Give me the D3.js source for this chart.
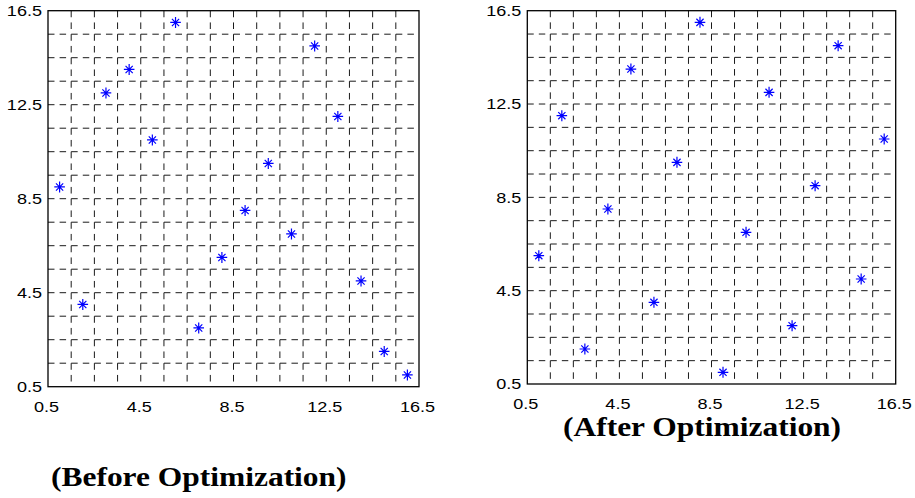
<!DOCTYPE html>
<html>
<head>
<meta charset="utf-8">
<script src="https://cdn.jsdelivr.net/npm/d3@7"></script>
<style>
  body { margin: 0; background: #fff; }
  svg { display: block; }
</style>
</head>
<body>
<svg id="chart" width="915" height="498"></svg>
<script>
// cell index of each of the 16 points (x) and the row it sits in (y)
var xPos = [1, 2, 3, 4, 5, 6, 7, 8, 9, 10, 11, 12, 13, 14, 15, 16];
var beforeY = [9, 4, 13, 14, 11, 16, 3, 6, 8, 10, 7, 15, 12, 5, 2, 1];
var afterY = [6, 12, 2, 8, 14, 4, 10, 16, 1, 7, 13, 3, 9, 15, 5, 11];
var tickValues = [0.5, 4.5, 8.5, 12.5, 16.5];
var gridValues = [1.5, 2.5, 3.5, 4.5, 5.5, 6.5, 7.5, 8.5, 9.5, 10.5, 11.5, 12.5, 13.5, 14.5, 15.5];
var domain = [0.5, 16.5];

var stretch = 1.165; // the picture is a bit wider than tall

var svg = d3.select("#chart");

function panel(left, top, right, bottom, yData, title, titleX, titleY) {
	var x = d3.scaleLinear().domain(domain).range([left, right]);
	var y = d3.scaleLinear().domain(domain).range([bottom, top]);
	var g = svg.append("g");
	var ux = x(1.5) - x(0.5), uy = y(0.5) - y(1.5);

	// dashed grid
	g.selectAll("line.vg")
		.data(gridValues)
		.enter()
		.append("line")
		.attr("x1", function (d) { return x(d); })
		.attr("x2", function (d) { return x(d); })
		.attr("y1", top)
		.attr("y2", bottom)
		.attr("stroke", "#1a1a1a")
		.attr("stroke-width", 1)
		.attr("stroke-dasharray", (uy * 0.28) + "," + (uy * 0.22));
	g.selectAll("line.hg")
		.data(gridValues)
		.enter()
		.append("line")
		.attr("y1", function (d) { return y(d); })
		.attr("y2", function (d) { return y(d); })
		.attr("x1", left)
		.attr("x2", right)
		.attr("stroke", "#1a1a1a")
		.attr("stroke-width", 1)
		.attr("stroke-dasharray", (ux * 0.28) + "," + (ux * 0.22));

	// box
	g.append("rect")
		.attr("x", left)
		.attr("y", top)
		.attr("width", right - left)
		.attr("height", bottom - top)
		.attr("fill", "none")
		.attr("stroke", "#000")
		.attr("stroke-width", 1.3);

	// tick labels
	var xAxis = g.append("g")
		.attr("transform", "translate(0," + bottom + ")")
		.call(d3.axisBottom(x).tickValues(tickValues).tickSize(0).tickPadding(14).tickFormat(d3.format(".1f")));
	var yAxis = g.append("g")
		.attr("transform", "translate(" + left + ",0)")
		.call(d3.axisLeft(y).tickValues(tickValues).tickSize(0).tickPadding(6).tickFormat(d3.format(".1f")));
	[xAxis, yAxis].forEach(function (a) {
		a.select(".domain").remove();
		a.selectAll("text")
			.attr("font-family", "Liberation Sans, Arial, sans-serif")
			.attr("font-size", 15.5)
			.attr("fill", "#000")
			.each(function () {
				var w = this.getComputedTextLength();
				d3.select(this).attr("textLength", w * stretch).attr("lengthAdjust", "spacingAndGlyphs");
			});
	});
	xAxis.selectAll("text").attr("dx", -2);

	// asterisk markers
	var star = "M-5.3,0H5.3M0,-5.5V5.5M-3.6,-3.6L3.6,3.6M-3.6,3.6L3.6,-3.6";
	g.selectAll("path.pt")
		.data(xPos)
		.enter()
		.append("path")
		.attr("d", star)
		.attr("transform", function (d, i) {
			return "translate(" + x(d) + "," + y(yData[i]) + ")";
		})
		.attr("fill", "none")
		.attr("stroke", "#0000ff")
		.attr("stroke-width", 1.2);

	var t = svg.append("text")
		.attr("x", titleX)
		.attr("y", titleY)
		.attr("font-family", "Liberation Serif, Times New Roman, serif")
		.attr("font-weight", "bold")
		.attr("font-size", 27)
		.text(title);
	t.attr("textLength", t.node().getComputedTextLength() * stretch).attr("lengthAdjust", "spacingAndGlyphs");
}

panel(48, 10.7, 419, 386.7, beforeY, "(Before Optimization)", 51, 486);
panel(527.3, 10.7, 895.7, 384, afterY, "(After Optimization)", 563, 436);
</script>
</body>
</html>
